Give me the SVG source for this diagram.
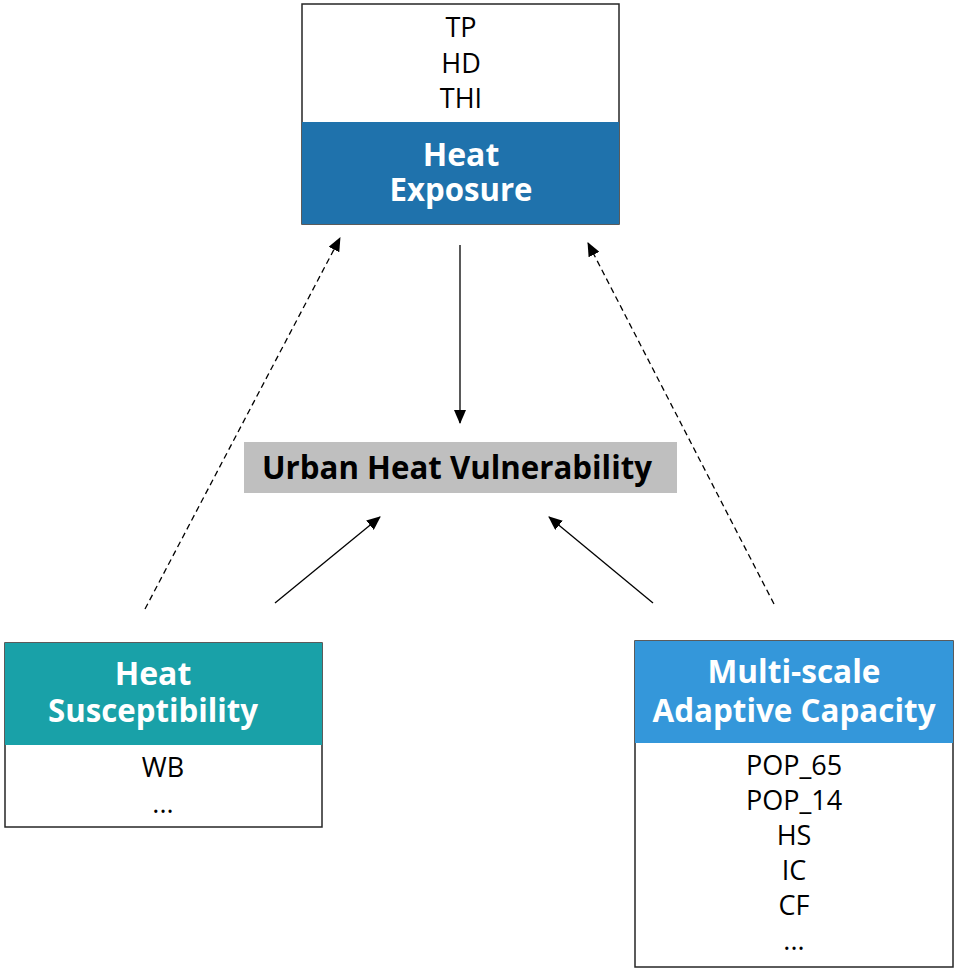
<svg xmlns="http://www.w3.org/2000/svg" width="957" height="972" viewBox="0 0 957 972">
<style>
.lst{font-family:"Open Sans","Noto Sans",sans-serif;font-size:27px;fill:#000;text-anchor:middle}
.ttl{font-family:"Open Sans","Noto Sans",sans-serif;font-size:32px;font-weight:bold;fill:#fff;text-anchor:middle}
.box{fill:#fff;stroke:#262626;stroke-width:1.5}
.con{stroke:#000;stroke-width:1.3;fill:none;marker-end:url(#ah)}
.dash{stroke-dasharray:6 4}
</style>
<defs>
<marker id="ah" markerUnits="userSpaceOnUse" markerWidth="14" markerHeight="12" refX="13" refY="6" orient="auto">
<path d="M0,0 L14,6 L0,12 Z" fill="#000"/>
</marker>
</defs>
<rect width="957" height="972" fill="#fff"/>
<g id="connectors">
<line class="con" x1="460" y1="245" x2="460" y2="423"/>
<line class="con dash" x1="145" y1="609" x2="340" y2="238"/>
<line class="con dash" x1="774" y1="604" x2="588" y2="243"/>
<line class="con" x1="275" y1="603" x2="380" y2="517"/>
<line class="con" x1="653" y1="603" x2="549" y2="517"/>
</g>
<g id="heat-exposure">
<rect class="box" x="302" y="4" width="317" height="220"/>
<rect x="302" y="122" width="317" height="102" fill="#1F72AC"/>
<text class="lst" x="461" y="37">TP</text>
<text class="lst" x="461" y="73">HD</text>
<text class="lst" x="461" y="108">THI</text>
<text class="ttl" x="461" y="166">Heat</text>
<text class="ttl" x="461" y="201" textLength="143" lengthAdjust="spacingAndGlyphs">Exposure</text>
</g>
<g id="urban-heat-vulnerability">
<rect x="244" y="442" width="433" height="51" fill="#BFBFBF"/>
<text x="457" y="479" font-family="'Open Sans','Noto Sans',sans-serif" font-size="33" font-weight="bold" fill="#000" text-anchor="middle" textLength="390" lengthAdjust="spacingAndGlyphs">Urban Heat Vulnerability</text>
</g>
<g id="heat-susceptibility">
<rect class="box" x="5" y="643" width="317" height="184"/>
<rect x="5" y="643" width="317" height="102" fill="#19A1A8"/>
<text class="ttl" x="153" y="685">Heat</text>
<text class="ttl" x="153" y="722" textLength="210" lengthAdjust="spacingAndGlyphs">Susceptibility</text>
<text class="lst" x="163" y="777">WB</text>
<text class="lst" x="163" y="813">...</text>
</g>
<g id="adaptive-capacity">
<rect class="box" x="635" y="641" width="318" height="326"/>
<rect x="635" y="641" width="318" height="102" fill="#3497DA"/>
<text class="ttl" x="794" y="683" textLength="173" lengthAdjust="spacingAndGlyphs">Multi-scale</text>
<text class="ttl" x="794" y="722" textLength="283" lengthAdjust="spacingAndGlyphs">Adaptive Capacity</text>
<text class="lst" x="794" y="775">POP_65</text>
<text class="lst" x="794" y="810">POP_14</text>
<text class="lst" x="794" y="845">HS</text>
<text class="lst" x="794" y="880">IC</text>
<text class="lst" x="794" y="915">CF</text>
<text class="lst" x="794" y="950">...</text>
</g>
</svg>
